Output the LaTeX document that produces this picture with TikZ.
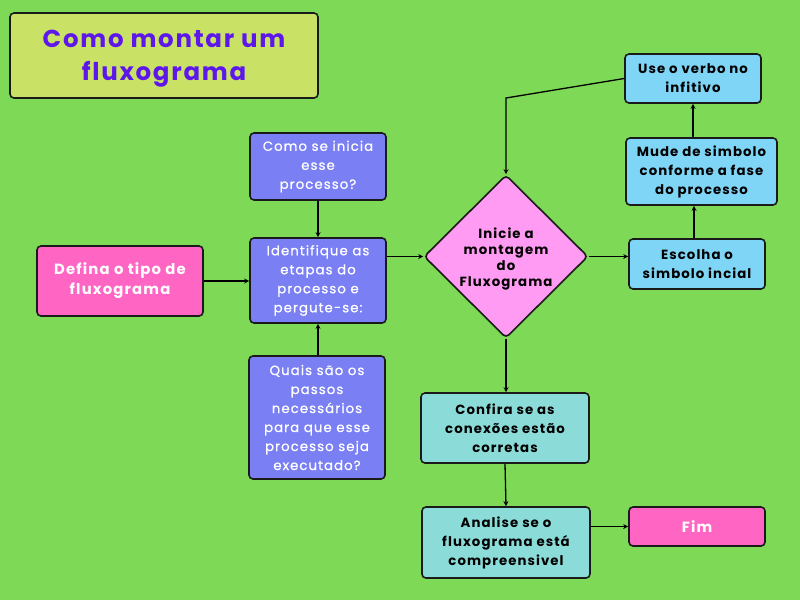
\documentclass[tikz,border=0pt]{standalone}
\usepackage{fontspec}
\setmainfont{Poppins}[LetterSpace=8]
\newfontfamily\titlefont{Poppins}[LetterSpace=7]
\newfontfamily\medfont{Poppins}[LetterSpace=8, FakeBold=0.7]
\usetikzlibrary{shapes.geometric,arrows.meta}
\definecolor{bg}{HTML}{7ED957}
\definecolor{titlefill}{HTML}{C9E265}
\definecolor{titletext}{HTML}{5E17EB}
\definecolor{pinkbox}{HTML}{FF66C4}
\definecolor{violetbox}{HTML}{7A80F4}
\definecolor{diafill}{HTML}{FF9BF2}
\definecolor{bluebox}{HTML}{7FD5F6}
\definecolor{tealbox}{HTML}{8BDCD9}
\definecolor{edge}{HTML}{1A1A1A}
\tikzset{
  box/.style={draw=edge, line width=1.6pt, rounded corners=4pt, align=center, inner sep=0pt},
  whitetext/.style={text=white, font=\medfont\fontsize{13.3}{19}\selectfont},
  whitebold/.style={text=white, font=\fontsize{14.8}{20}\selectfont\bfseries},
  darkbold/.style={text=black, font=\fontsize{13.3}{19}\selectfont\bfseries},
  conn/.style={draw=black, line width=1.3pt, -{Stealth[length=5pt,width=5pt]}},
}
\begin{document}
\begin{tikzpicture}[x=1pt,y=-1pt]
\fill[bg] (0,0) rectangle (800,600);
\useasboundingbox (0,0) rectangle (800,600);
% title
\node[box, fill=titlefill, minimum width=308pt, minimum height=85pt] (title) at (164,55.5) {};
\node[text=titletext, align=center, font=\titlefont\fontsize{24.5}{33}\selectfont\bfseries] (titletxt) at (164,58.5) {Como montar um\\fluxograma};
% left column
\node[box, fill=pinkbox, whitebold, minimum width=166pt, minimum height=70pt] (defina) at (120,281) {Defina o tipo de\\fluxograma};
\node[box, fill=violetbox, whitetext, minimum width=136pt, minimum height=67pt] (inicia) at (318,166.5) {Como se inicia\\esse\\processo?};
\node[box, fill=violetbox, whitetext, minimum width=136pt, minimum height=85pt] (ident) at (318,280.5) {Identifique as\\etapas do\\processo e\\pergute-se:};
\node[box, fill=violetbox, whitetext, minimum width=136pt, minimum height=123pt] (quais) at (317,417.5) {Quais são os\\passos\\necessários\\para que esse\\processo seja\\executado?};
% diamond
\node[draw=edge, line width=1.6pt, fill=diafill, diamond, rounded corners=4pt, minimum width=164pt, minimum height=163pt, inner sep=0pt] (dia) at (506,256.5) {};
\node[align=center, text=black, font=\fontsize{13.3}{16}\selectfont\bfseries] (diatxt) at (506,258.5) {Inicie a\\montagem\\do\\Fluxograma};
% right column
\node[box, fill=bluebox, darkbold, minimum width=136pt, minimum height=50pt] (escolha) at (697,264) {Escolha o\\simbolo incial};
\node[box, fill=bluebox, darkbold, minimum width=151pt, minimum height=67pt] (mude) at (701.5,171.5) {Mude de simbolo\\conforme a fase\\do processo};
\node[box, fill=bluebox, darkbold, minimum width=136pt, minimum height=49pt] (use) at (693,78.5) {Use o verbo no\\infitivo};
% bottom
\node[box, fill=tealbox, darkbold, minimum width=168pt, minimum height=70pt] (confira) at (505,428) {Confira se as\\conexões estão\\corretas};
\node[box, fill=tealbox, darkbold, minimum width=168pt, minimum height=71pt] (analise) at (506,542.5) {Analise se o\\fluxograma está\\compreensivel};
\node[box, fill=pinkbox, whitebold, minimum width=136pt, minimum height=39pt] (fim) at (697,526.5) {Fim};
% connectors
\coordinate (bend) at (506,98);
\draw[conn] (defina.east) -- (ident.west |- defina.east);
\draw[conn] (inicia.south) -- (ident.north);
\draw[conn] (quais.north -| ident.south) -- (ident.south);
\draw[conn] (ident.east |- dia.west) -- (dia.west);
\draw[conn] (dia.east) -- (escolha.west |- dia.east);
\draw[conn] (escolha.north -| 694,0) -- (mude.south -| 694,0);
\draw[conn] (mude.north -| use.south) -- (use.south);
\draw[conn] (use.west) -- (bend) -- (dia.north);
\draw[conn] (dia.south) -- (confira.north -| dia.south);
\draw[conn] (confira.south) -- (analise.north);
\draw[conn] (analise.east |- fim.west) -- (fim.west);
\end{tikzpicture}
\end{document}
